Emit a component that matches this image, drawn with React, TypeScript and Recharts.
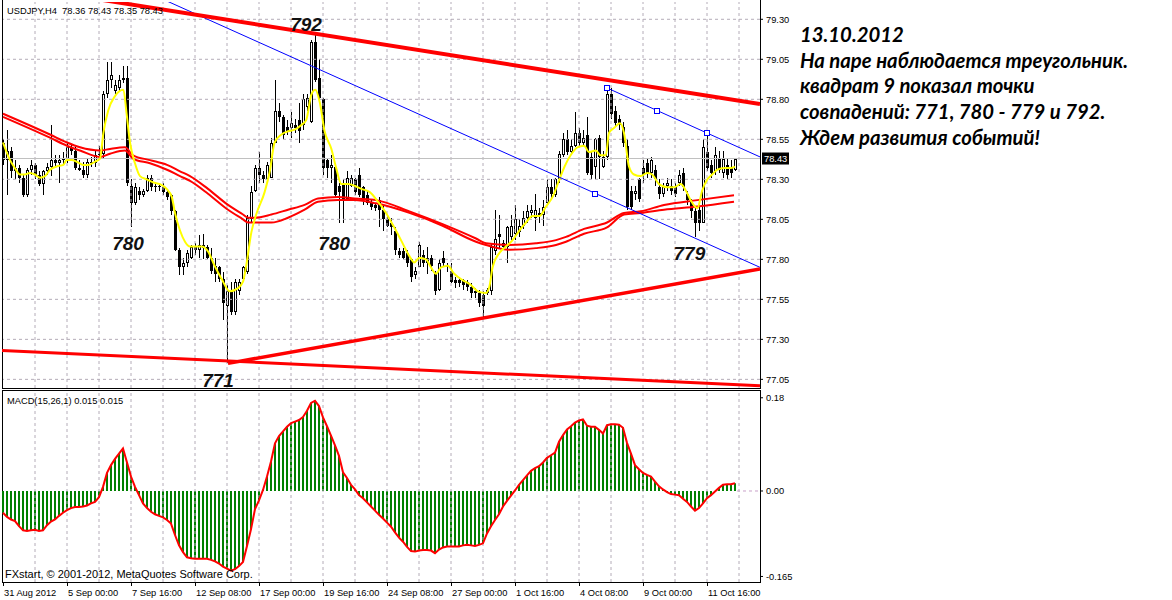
import React from 'react';
import { ComposedChart, Bar, Line, XAxis, YAxis, ReferenceLine, Scatter } from 'recharts';

// ---- USDJPY H4 candles (bar 0 = 31 Aug 2012 08:00) ----
const opens = [78.53,78.42,78.48,78.35,78.37,78.31,78.20,78.36,78.39,78.33,78.27,78.35,78.38,78.42,78.40,78.42,78.43,78.50,78.48,78.37,78.36,78.33,78.41,78.40,78.45,78.46,78.83,78.92,78.85,78.87,78.92,78.93,78.26,78.15,78.23,78.20,78.23,78.31,78.26,78.26,78.25,78.22,78.20,78.10,77.86,77.75,77.78,77.81,77.88,77.86,77.89,77.88,77.81,77.76,77.75,77.68,77.51,77.60,77.47,77.60,77.68,77.72,78.05,78.23,78.37,78.33,78.30,78.31,78.53,78.73,78.69,78.63,78.62,78.64,78.67,78.64,78.75,78.66,79.16,78.93,78.80,78.42,78.37,78.38,78.26,78.28,78.18,78.26,78.30,78.33,78.25,78.20,78.16,78.14,78.17,78.11,78.05,78.03,77.98,77.85,77.85,77.84,77.80,77.70,77.75,77.83,77.81,77.81,77.71,77.61,77.81,77.76,77.73,77.67,77.67,77.67,77.66,77.63,77.60,77.59,77.58,77.59,77.60,77.85,77.96,77.90,77.88,77.94,77.96,77.97,78.01,78.06,78.09,78.06,78.09,78.08,78.15,78.25,78.20,78.30,78.45,78.55,78.47,78.51,78.59,78.53,78.58,78.44,78.38,78.56,78.38,78.44,78.83,78.73,78.68,78.63,78.51,78.23,78.21,78.30,78.37,78.40,78.34,78.36,78.25,78.21,78.26,78.26,78.25,78.28,78.34,78.21,78.16,78.10,78.11,78.03,78.47,78.39,78.35,78.43,78.34,78.39,78.37,78.36];
const highs = [78.55,78.61,78.50,78.42,78.39,78.33,78.37,78.42,78.40,78.35,78.36,78.40,78.64,78.45,78.45,78.47,78.53,78.52,78.50,78.42,78.41,78.43,78.44,78.48,78.51,78.85,79.03,79.03,78.92,78.95,79.01,79.01,78.30,78.28,78.25,78.24,78.33,78.33,78.28,78.28,78.28,78.23,78.21,78.11,77.87,77.81,77.86,77.89,77.90,77.95,77.96,77.89,77.87,77.81,77.76,77.72,77.64,77.66,77.68,77.68,77.76,78.08,78.26,78.39,78.47,78.35,78.41,78.56,78.92,78.78,78.70,78.67,78.72,78.68,78.78,78.83,78.83,79.17,79.20,79.05,78.81,78.43,78.45,78.40,78.28,78.30,78.35,78.33,78.31,78.37,78.26,78.23,78.18,78.15,78.19,78.14,78.08,78.06,78.00,77.87,77.87,77.86,77.81,77.75,77.91,77.86,77.88,77.83,77.73,77.80,77.85,77.78,77.78,77.69,77.69,77.68,77.67,77.65,77.62,77.61,77.60,77.62,77.90,78.11,78.08,77.92,78.01,78.08,78.14,78.05,78.10,78.14,78.14,78.21,78.12,78.17,78.30,78.30,78.31,78.48,78.59,78.61,78.55,78.72,78.62,78.61,78.69,78.48,78.56,78.58,78.48,78.88,78.87,78.76,78.70,78.66,78.55,78.26,78.26,78.31,78.42,78.43,78.44,78.39,78.30,78.28,78.31,78.30,78.28,78.36,78.37,78.23,78.18,78.12,78.14,78.55,78.59,78.42,78.50,78.48,78.48,78.43,78.42,78.43];
const lows = [78.39,78.20,78.31,78.30,78.28,78.19,78.19,78.33,78.30,78.26,78.20,78.33,78.32,78.37,78.28,78.39,78.40,78.45,78.36,78.35,78.31,78.31,78.38,78.38,78.42,78.43,78.81,78.87,78.83,78.85,78.90,78.26,78.00,78.14,78.17,78.19,78.22,78.23,78.22,78.23,78.20,78.17,78.08,77.85,77.70,77.70,77.75,77.80,77.83,77.81,77.80,77.80,77.71,77.66,77.66,77.42,77.15,77.45,77.45,77.58,77.67,77.71,78.03,78.22,78.28,78.28,78.28,78.31,78.53,78.66,78.55,78.58,78.56,78.59,78.53,78.61,78.73,78.65,78.91,78.80,78.33,78.31,78.28,78.19,78.03,78.03,78.17,78.25,78.20,78.19,78.14,78.14,78.11,78.10,78.00,77.98,78.00,77.95,77.83,77.81,77.80,77.75,77.66,77.68,77.75,77.75,77.71,77.73,77.58,77.60,77.75,77.72,77.65,77.62,77.63,77.61,77.60,77.56,77.56,77.50,77.44,77.58,77.58,77.83,77.87,77.86,77.78,77.92,77.92,77.94,77.99,78.03,78.06,77.98,78.03,78.01,78.14,78.17,78.19,78.28,78.44,78.45,78.45,78.50,78.50,78.51,78.33,78.30,78.30,78.30,78.37,78.42,78.68,78.63,78.61,78.50,78.11,78.11,78.17,78.16,78.28,78.31,78.31,78.26,78.18,78.19,78.23,78.20,78.19,78.26,78.23,78.14,78.06,77.94,77.98,78.03,78.35,78.31,78.33,78.34,78.31,78.30,78.31,78.35];
const closes = [78.42,78.48,78.35,78.37,78.31,78.20,78.36,78.39,78.33,78.27,78.35,78.38,78.42,78.40,78.42,78.43,78.50,78.48,78.37,78.36,78.33,78.41,78.40,78.45,78.46,78.83,78.92,78.95,78.89,78.92,78.93,78.28,78.15,78.25,78.20,78.23,78.31,78.25,78.25,78.26,78.22,78.19,78.10,77.86,77.75,77.78,77.84,77.88,77.86,77.89,77.87,77.81,77.73,77.71,77.68,77.53,77.60,77.47,77.66,77.66,77.75,78.06,78.22,78.37,78.33,78.30,78.39,78.53,78.73,78.69,78.58,78.60,78.65,78.62,78.60,78.80,78.81,79.16,78.92,78.81,78.37,78.37,78.39,78.20,78.22,78.18,78.31,78.31,78.22,78.20,78.18,78.15,78.13,78.12,78.11,78.05,78.01,78.00,77.86,77.83,77.81,77.78,77.69,77.73,77.89,77.78,77.78,77.76,77.60,77.78,77.78,77.75,77.66,77.65,77.65,77.64,77.63,77.59,77.59,77.53,77.51,77.61,77.88,77.93,77.94,77.88,78.00,78.01,78.05,78.01,78.06,78.10,78.11,78.11,78.08,78.13,78.25,78.21,78.30,78.46,78.55,78.47,78.51,78.59,78.53,78.56,78.34,78.33,78.55,78.44,78.44,78.83,78.71,78.65,78.64,78.53,78.13,78.13,78.23,78.18,78.33,78.34,78.42,78.30,78.21,78.25,78.28,78.23,78.21,78.33,78.25,78.17,78.10,78.03,78.03,78.50,78.37,78.34,78.45,78.36,78.43,78.33,78.34,78.43];

// ---- MACD(15,26,1) histogram, one value per bar ----
const macdValues = [-0.042,-0.050,-0.055,-0.058,-0.068,-0.076,-0.077,-0.076,-0.075,-0.077,-0.076,-0.066,-0.059,-0.055,-0.048,-0.042,-0.037,-0.033,-0.031,-0.031,-0.030,-0.028,-0.024,-0.021,-0.012,0.008,0.035,0.050,0.062,0.072,0.082,0.055,0.028,0.008,-0.008,-0.024,-0.033,-0.040,-0.045,-0.048,-0.051,-0.056,-0.063,-0.085,-0.105,-0.118,-0.128,-0.130,-0.131,-0.131,-0.131,-0.131,-0.133,-0.136,-0.140,-0.146,-0.150,-0.154,-0.151,-0.145,-0.137,-0.106,-0.074,-0.035,-0.018,0.002,0.028,0.057,0.092,0.106,0.115,0.124,0.131,0.134,0.137,0.143,0.155,0.170,0.174,0.164,0.142,0.125,0.107,0.088,0.068,0.036,0.025,0.012,0.003,-0.008,-0.014,-0.022,-0.030,-0.038,-0.046,-0.053,-0.061,-0.069,-0.080,-0.090,-0.098,-0.108,-0.116,-0.117,-0.115,-0.114,-0.114,-0.115,-0.120,-0.113,-0.109,-0.107,-0.107,-0.107,-0.107,-0.105,-0.104,-0.105,-0.106,-0.104,-0.101,-0.082,-0.068,-0.056,-0.045,-0.030,-0.019,-0.009,0.001,0.012,0.021,0.030,0.039,0.044,0.048,0.055,0.064,0.069,0.074,0.095,0.108,0.119,0.125,0.132,0.136,0.138,0.126,0.124,0.124,0.118,0.111,0.127,0.129,0.129,0.128,0.122,0.093,0.072,0.050,0.042,0.035,0.031,0.028,0.018,0.009,0.003,-0.002,-0.006,-0.007,-0.008,-0.015,-0.021,-0.030,-0.038,-0.033,-0.024,-0.014,-0.008,-0.001,0.006,0.012,0.013,0.013,0.015];

// ---- moving averages: [bar, price] ----
const yellowMA = [[0,78.53],[1.75,78.42],[3,78.37],[4.25,78.33],[5.5,78.33],[6.75,78.34],[8,78.33],[9.25,78.31],[10.5,78.32],[11.75,78.36],[13.4,78.38],[15.1,78.39],[15.9,78.42],[17.2,78.42],[18.4,78.41],[20.1,78.39],[21.3,78.39],[23,78.41],[24.25,78.43],[25.1,78.59],[26.3,78.73],[28,78.82],[30.1,78.86],[30.9,78.71],[31.75,78.53],[33,78.40],[34.25,78.32],[35.9,78.30],[37.6,78.28],[39.25,78.27],[40.9,78.24],[42.2,78.19],[43,78.09],[44.25,77.98],[45.5,77.91],[46.75,77.88],[49.6,77.88],[51.25,77.85],[52.9,77.76],[54.6,77.68],[56.7,77.60],[58.75,77.62],[60,77.66],[60.8,77.76],[62.1,77.97],[63.3,78.08],[65.4,78.22],[66.7,78.35],[67.9,78.53],[69.6,78.58],[71.25,78.60],[72.9,78.61],[74.6,78.64],[75.8,78.67],[77.1,78.83],[78.1,78.86],[79.2,78.78],[80.4,78.60],[82.1,78.49],[83.3,78.37],[84.6,78.27],[86.25,78.27],[87.9,78.26],[89.6,78.24],[91.7,78.22],[93.75,78.16],[95.75,78.09],[97.8,78.00],[99.5,77.92],[101.6,77.82],[102.8,77.78],[104.1,77.81],[105.75,77.80],[107,77.75],[108.25,77.71],[109.5,77.75],[111.2,77.76],[112.8,77.71],[114.9,77.67],[117,77.64],[118.7,77.60],[120.75,77.59],[121.6,77.63],[122.4,77.75],[124.1,77.84],[125.75,77.88],[127.4,77.92],[129.1,77.98],[130.75,78.03],[132.4,78.07],[134.1,78.07],[135.75,78.13],[137.4,78.19],[139.1,78.30],[140.4,78.38],[141.9,78.45],[143.6,78.50],[145.25,78.51],[146.5,78.47],[148.2,78.48],[149.4,78.45],[150.7,78.45],[151.5,78.59],[152.75,78.62],[154.25,78.65],[155.25,78.59],[156.5,78.38],[157.75,78.33],[159.4,78.32],[161.1,78.34],[162.3,78.33],[164,78.27],[166.1,78.25],[167.75,78.25],[169.4,78.27],[170.7,78.23],[171.9,78.17],[173.6,78.12],[174.8,78.23],[176.1,78.30],[177.3,78.33],[178.6,78.36],[180.25,78.37],[181.9,78.37],[183,78.38]];
const redMAUpper = [[0,78.71],[11.75,78.58],[16,78.53],[19.25,78.50],[24.25,78.48],[26.75,78.49],[30.5,78.50],[32.5,78.45],[36.75,78.42],[41,78.39],[44.25,78.35],[46.75,78.32],[51.25,78.24],[56.25,78.14],[60,78.08],[61.25,78.06],[62.9,78.06],[67.1,78.08],[71.25,78.11],[75.4,78.14],[78.75,78.18],[83.75,78.19],[87.9,78.18],[93.25,78.17],[101.6,78.10],[109.9,78.02],[118.25,77.93],[120.75,77.90],[126.6,77.89],[133.25,77.90],[138.25,77.92],[140.75,77.94],[145.25,77.99],[151,78.03],[155.25,78.09],[159.4,78.10],[165.25,78.14],[173.6,78.17],[182.75,78.20]];
const redMALower = [[0,78.69],[11.75,78.56],[16,78.51],[19.25,78.48],[24.25,78.44],[26.75,78.46],[30.5,78.48],[32.5,78.43],[36.75,78.40],[41,78.36],[44.25,78.32],[46.75,78.29],[51.25,78.21],[56.25,78.11],[60,78.05],[61.25,78.03],[62.9,78.03],[67.1,78.03],[71.25,78.06],[75.4,78.11],[78.75,78.16],[83.75,78.17],[87.9,78.17],[93.25,78.15],[101.6,78.09],[109.9,78.01],[118.25,77.91],[120.75,77.89],[126.6,77.86],[133.25,77.87],[138.25,77.89],[140.75,77.91],[145.25,77.96],[151,78.00],[155.25,78.08],[159.4,78.09],[165.25,78.11],[173.6,78.13],[182.75,78.16]];

// ---- trend lines [[bar, price], [bar, price]] ----
const redTrendLines = [
  [[20, 79.44], [189.25, 78.77]],
  [[56.25, 77.15], [189.25, 77.74]],
  [[-0.25, 77.23], [189.25, 77.01]],
];
const redTrendWidths = [4, 3.5, 3];
const blueTrendLines = [
  [[40, 79.425], [189.25, 77.75]],
  [[151.1, 78.87], [189.25, 78.44]],
];
const blueAnchors = [[148, 78.21], [151.1, 78.87], [163.6, 78.73], [176.1, 78.59]];
const countLabels = [
  { i: 75.75, p: 79.27, t: '792' },
  { i: 31.25, p: 77.905, t: '780' },
  { i: 82.8, p: 77.905, t: '780' },
  { i: 53.75, p: 77.045, t: '771' },
  { i: 171.6, p: 77.84, t: '779' },
];

// ---- axes ----
const priceTicks = [79.30, 79.05, 78.80, 78.55, 78.30, 78.05, 77.80, 77.55, 77.30, 77.05];
const lastPrice = 78.43;
const macdTicks = [0.18, 0, -0.165];
const macdTickLabels = ['0.18', '0.00', '-0.165'];
const timeTickIdx = [0, 16, 32, 48, 64, 80, 96, 112, 128, 144, 160, 176];
const timeTickLabels = ['31 Aug 2012', '5 Sep 00:00', '7 Sep 16:00', '12 Sep 08:00', '17 Sep 00:00', '19 Sep 16:00', '24 Sep 08:00', '27 Sep 00:00', '1 Oct 16:00', '4 Oct 08:00', '9 Oct 00:00', '11 Oct 16:00'];
const gridIdx = [8, 16, 24, 32, 40, 48, 56, 64, 72, 80, 88, 96, 104, 112, 120, 128, 136, 144, 152, 160, 168, 176, 184];

const annotation = [
  '13.10.2012',
  'На паре наблюдается треугольник.',
  'квадрат 9 показал точки',
  'совпадений: 771, 780 - 779 и 792.',
  'Ждем развития событий!',
];

const X_DOMAIN: [number, number] = [-0.25, 189.25];
const P_DOMAIN: [number, number] = [76.996, 79.408];
const M_DOMAIN: [number, number] = [-0.1757, 0.195];
const GRID = '#b4acb8';
const AXIS_FONT = 'Liberation Sans, Arial, sans-serif';

function Candle(props: any) {
  const { x, y, width, height, payload } = props;
  if (!payload || x == null || y == null) return null;
  const cx = Math.round(x + width / 2);
  const top = Math.min(y, y + height);
  const bottom = Math.max(y, y + height);
  const span = payload.h - payload.l;
  const toY = (v: number) => (span > 0 ? top + ((payload.h - v) / span) * (bottom - top) : top);
  const yo = toY(payload.o);
  const yc = toY(payload.c);
  const bTop = Math.round(Math.min(yo, yc));
  const bBot = Math.round(Math.max(yo, yc));
  const bull = payload.c > payload.o;
  const wTop = Math.round(top);
  const wBot = Math.round(bottom);
  let body;
  if (bBot - bTop <= 1) body = <rect x={cx - 1} y={bTop} width={3} height={1} fill="#000" />;
  else if (bull) body = <rect x={cx - 0.5} y={bTop + 0.5} width={2} height={bBot - bTop - 1} fill="#fff" stroke="#000" strokeWidth={1} />;
  else body = <rect x={cx - 1} y={bTop} width={3} height={bBot - bTop} fill="#000" />;
  return (
    <g shapeRendering="crispEdges">
      <rect x={cx} y={wTop} width={1} height={Math.max(1, wBot - wTop)} fill="#000" />
      {body}
    </g>
  );
}

function PriceTag(props: any) {
  const vb = props.viewBox || {};
  const x = vb.x + vb.width + 2;
  const y = vb.y;
  return (
    <g>
      <rect x={x} y={y - 6} width={27} height={12} fill="#000" />
      <text x={x + 2} y={y + 3.5} fill="#fff" fontSize={9.3} fontFamily={AXIS_FONT}>{lastPrice.toFixed(2)}</text>
    </g>
  );
}

function TimeTick(props: any) {
  const { x, y, payload } = props;
  const k = timeTickIdx.indexOf(payload.value);
  return (
    <g>
      <rect x={Math.round(x)} y={y} width={1} height={4} fill="#000" shapeRendering="crispEdges" />
      <text x={x + 1} y={y + 13.5} fontSize={9.3} fontFamily={AXIS_FONT} fill="#000">{timeTickLabels[k]}</text>
    </g>
  );
}

function CountLabel(props: any) {
  const { cx, cy, payload } = props;
  if (cx == null) return null;
  return (
    <text x={cx} y={cy + 7} textAnchor="middle" fontSize={19} fontWeight="bold" fontStyle="italic" fontFamily="Liberation Sans, Arial, sans-serif" fill="#111">{payload.t}</text>
  );
}

function AnchorSquare(props: any) {
  const { cx, cy } = props;
  if (cx == null) return null;
  return <rect x={Math.round(cx) - 2.5} y={Math.round(cy) - 2.5} width={5} height={5} fill="#fff" stroke="#0000ff" strokeWidth={1} shapeRendering="crispEdges" />;
}

export default function App() {
  const candles = opens.map((o, i) => ({ i, o, h: highs[i], l: lows[i], c: closes[i], r: [lows[i], highs[i]] }));
  const macdData = macdValues.map((m, i) => ({ i, m }));
  const toPts = (arr: number[][]) => arr.map(([i, p]) => ({ i, p }));
  const yellowData = toPts(yellowMA);
  const upperData = toPts(redMAUpper);
  const lowerData = toPts(redMALower);
  const anchorData = toPts(blueAnchors);

  return (
    <div style={{ position: 'absolute', left: 0, top: 0, width: 1172, height: 600, background: '#fff', overflow: 'hidden' }}>
      {/* price panel: grid + candles */}
      <div style={{ position: 'absolute', left: 0, top: 0 }}>
        <ComposedChart width={800} height={390} data={candles} margin={{ top: 2, right: 0, bottom: 2, left: 2 }}>
          <XAxis dataKey="i" type="number" domain={X_DOMAIN} hide />
          <YAxis orientation="right" type="number" domain={P_DOMAIN} ticks={priceTicks} interval={0} width={40}
            axisLine={false} tickLine={{ stroke: '#000' }} tickSize={3} tickMargin={3}
            tick={{ fontSize: 9.3, fill: '#000', fontFamily: AXIS_FONT }} tickFormatter={(v: number) => v.toFixed(2)} />
          {gridIdx.map((g) => (
            <ReferenceLine key={'vg' + g} x={g} stroke={GRID} strokeDasharray="3 3" />
          ))}
          {priceTicks.map((p) => (
            <ReferenceLine key={'hg' + p} y={p} stroke={GRID} strokeDasharray="3 3" />
          ))}
          <ReferenceLine y={lastPrice} stroke="#c0c0c0" label={(p: any) => <PriceTag {...p} />} />
          <Bar dataKey="r" barSize={3} isAnimationActive={false} shape={(p: any) => <Candle {...p} />} />
        </ComposedChart>
      </div>

      {/* panel frames */}
      <div style={{ position: 'absolute', left: 2, top: 0, width: 759, height: 389, boxSizing: 'border-box', borderLeft: '1px solid #000', borderRight: '1px solid #000', borderBottom: '1px solid #000' }} />
      <div style={{ position: 'absolute', left: 2, top: 390, width: 759, height: 193, boxSizing: 'border-box', border: '1px solid #000' }} />

      {/* MACD panel */}
      <div style={{ position: 'absolute', left: 0, top: 388 }}>
        <ComposedChart width={800} height={212} data={macdData} margin={{ top: 2, right: 0, bottom: 0, left: 2 }}>
          <XAxis dataKey="i" type="number" domain={X_DOMAIN} ticks={timeTickIdx} interval={0} height={18}
            axisLine={false} tickLine={false} tickSize={0} tickMargin={0} tick={(p: any) => <TimeTick {...p} />} />
          <YAxis orientation="right" type="number" domain={M_DOMAIN} ticks={macdTicks} interval={0} width={40}
            axisLine={false} tickLine={{ stroke: '#000' }} tickSize={3} tickMargin={3}
            tick={{ fontSize: 9.3, fill: '#000', fontFamily: AXIS_FONT }}
            tickFormatter={(v: number) => macdTickLabels[macdTicks.indexOf(v)]} />
          {gridIdx.map((g) => (
            <ReferenceLine key={'mvg' + g} x={g} stroke={GRID} strokeDasharray="3 3" />
          ))}
          <ReferenceLine segment={[{ x: 183.5, y: 0 }, { x: 189.25, y: 0 }]} stroke="#c8a0c8" strokeDasharray="3 3" />
          <Bar dataKey="m" fill="#008000" barSize={2} isAnimationActive={false} />
          <Line dataKey="m" stroke="#ff0000" strokeWidth={2} dot={false} type="linear" isAnimationActive={false} />
        </ComposedChart>
      </div>

      {/* price panel overlay: averages, trend lines, labels */}
      <div style={{ position: 'absolute', left: 0, top: 0 }}>
        <ComposedChart width={800} height={398} margin={{ top: 2, right: 40, bottom: 10, left: 2 }}>
          <XAxis dataKey="i" type="number" domain={X_DOMAIN} hide />
          <YAxis type="number" domain={P_DOMAIN} hide />
          <Line data={upperData} dataKey="p" stroke="#ff0000" strokeWidth={2} dot={false} type="monotone" isAnimationActive={false} />
          <Line data={lowerData} dataKey="p" stroke="#ff0000" strokeWidth={2} dot={false} type="monotone" isAnimationActive={false} />
          <Line data={yellowData} dataKey="p" stroke="#ffff00" strokeWidth={2} dot={false} type="monotone" isAnimationActive={false} />
          {blueTrendLines.map((s, k) => (
            <ReferenceLine key={'bt' + k} segment={[{ x: s[0][0], y: s[0][1] }, { x: s[1][0], y: s[1][1] }]} stroke="#0000ff" strokeWidth={1} ifOverflow="hidden" />
          ))}
          {redTrendLines.map((s, k) => (
            <ReferenceLine key={'rt' + k} segment={[{ x: s[0][0], y: s[0][1] }, { x: s[1][0], y: s[1][1] }]} stroke="#ff0000" strokeWidth={redTrendWidths[k]} ifOverflow="hidden" />
          ))}
          <Scatter data={anchorData} dataKey="p" isAnimationActive={false} shape={(p: any) => <AnchorSquare {...p} />} />
          <Scatter data={countLabels} dataKey="p" isAnimationActive={false} shape={(p: any) => <CountLabel {...p} />} />
        </ComposedChart>
      </div>

      {/* captions and commentary */}
      <svg width={1172} height={600} style={{ position: 'absolute', left: 0, top: 0, pointerEvents: 'none' }}>
        <text x={7} y={14} fontSize={9.3} fontFamily={AXIS_FONT} fill="#000" style={{ whiteSpace: 'pre' }}>{'USDJPY,H4  78.36 78.43 78.35 78.43'}</text>
        <text x={7} y={404} fontSize={9.3} fontFamily={AXIS_FONT} fill="#000">MACD(15,26,1) 0.015 0.015</text>
        <text x={5} y={578} fontSize={11} fontFamily={AXIS_FONT} fill="#000">FXstart, © 2001-2012, MetaQuotes Software Corp.</text>
        {annotation.map((line, k) => (
          <text key={k} x={800} y={42 + k * 25.7} fontSize={20.3} fontWeight="bold" fontStyle="italic" fontFamily="Lato, 'Open Sans', sans-serif" fill="#000">{line}</text>
        ))}
      </svg>
    </div>
  );
}
